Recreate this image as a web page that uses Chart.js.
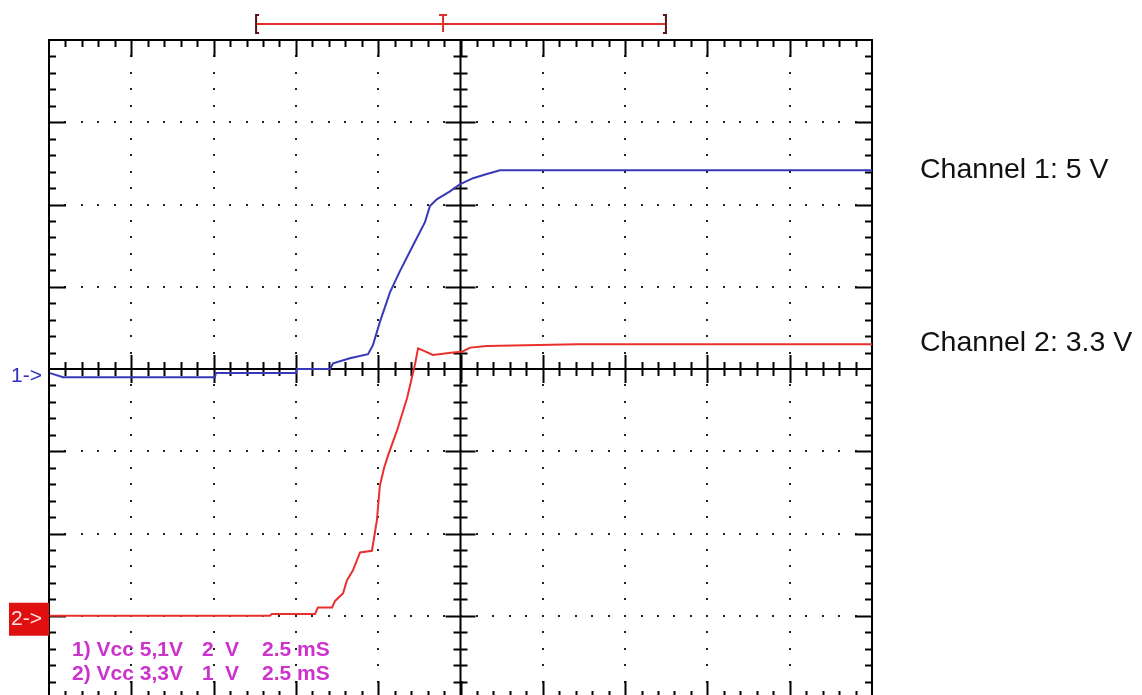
<!DOCTYPE html>
<html>
<head>
<meta charset="utf-8">
<script src="https://cdn.jsdelivr.net/npm/chart.js@4/dist/chart.umd.min.js"></script>
<style>
  html, body { margin: 0; padding: 0; background: #fff; overflow: hidden; }
  #wrap { position: absolute; left: 0; top: 0; width: 1142px; height: 703px; }
</style>
</head>
<body>
<div id="wrap"><canvas id="scope"></canvas></div>
<script>
// Scope capture: 2.5 ms/div, 10 divisions across, 8 down
const timeDivs = 10;
const msPerDiv = 2.5;

// Channel 1 (2 V/div) — time in ms from left edge, volts
const ch1Time  = [0.03, 0.43, 5.04, 5.07, 7.50, 7.53, 8.54, 8.63, 9.14, 9.69, 9.84, 10.05, 10.36, 10.66, 11.06, 11.42, 11.57, 11.79, 12.18, 12.48, 12.88, 13.30, 13.70, 25.0];
const ch1Volts = [0.05, -0.05, -0.05, 0.05, 0.05, 0.15, 0.15, 0.29, 0.41, 0.51, 0.73, 1.29, 2.02, 2.53, 3.16, 3.72, 4.11, 4.28, 4.47, 4.64, 4.79, 4.89, 4.98, 4.98];

// Channel 2 (1 V/div)
const ch2Time  = [0.03, 6.71, 6.77, 8.08, 8.17, 8.60, 8.69, 8.93, 9.05, 9.23, 9.45, 9.81, 9.96, 10.05, 10.18, 10.30, 10.57, 10.88, 11.12, 11.21, 11.39, 11.66, 12.27, 12.55, 12.79, 13.30, 16.04, 25.0];
const ch2Volts = [0.00, 0.00, 0.02, 0.02, 0.10, 0.10, 0.18, 0.27, 0.43, 0.55, 0.77, 0.79, 1.16, 1.58, 1.80, 1.95, 2.25, 2.65, 3.06, 3.25, 3.22, 3.17, 3.20, 3.21, 3.26, 3.28, 3.30, 3.30];

// Vertical ranges so that each channel's ground marker lands where the scope put it
const ch1Range = [-7.85, 8.15];
const ch2Range = [-1.0, 7.0];

// Acquisition window bracket and trigger (ms)
const windowStart = 6.29;
const windowEnd   = 18.74;
const triggerAt   = 11.97;

const channelLabels = ['Channel 1: 5 V', 'Channel 2: 3.3 V'];
const channelLevels = [5.0, 3.3];
const legendRows = [
  ['1) Vcc 5,1V', '2', 'V', '2.5', 'mS'],
  ['2) Vcc 3,3V', '1', 'V', '2.5', 'mS']
];

function toPoints(xs, ys) {
  return xs.map(function (x, i) { return { x: x, y: ys[i] }; });
}

// graticule: border, dotted grid, centre axes, ticks
const graticule = {
  id: 'graticule',
  beforeDatasetsDraw: function (chart) {
    const ctx = chart.ctx;
    const a = chart.chartArea;
    const xs = chart.scales.x;
    const gs = chart.scales.grid;
    const cx = xs.getPixelForValue(timeDivs * msPerDiv / 2);
    const cy = gs.getPixelForValue(0);
    ctx.save();
    ctx.fillStyle = '#222';

    // dotted division lines
    for (let i = 1; i < timeDivs; i++) {
      if (i === timeDivs / 2) continue;
      const px = Math.round(xs.getPixelForValue(i * msPerDiv));
      for (let m = -19; m <= 19; m++) {
        const py = Math.round(gs.getPixelForValue(m / 5));
        ctx.fillRect(px - 1, py - 1, 2, 2);
      }
    }
    for (let j = -3; j <= 3; j++) {
      if (j === 0) continue;
      const py = Math.round(gs.getPixelForValue(j));
      for (let m = 1; m < timeDivs * 5; m++) {
        const px = Math.round(xs.getPixelForValue(m * msPerDiv / 5));
        ctx.fillRect(px - 1, py - 1, 2, 2);
      }
    }

    ctx.strokeStyle = '#000';
    ctx.lineWidth = 2;
    ctx.beginPath();
    // centre axes
    ctx.moveTo(a.left, cy); ctx.lineTo(a.right, cy);
    ctx.moveTo(cx, a.top); ctx.lineTo(cx, a.bottom);

    // ticks along horizontal lines (top, bottom, centre)
    for (let m = 1; m < timeDivs * 5; m++) {
      const px = Math.round(xs.getPixelForValue(m * msPerDiv / 5)) + 0.5;
      const major = m % 5 === 0;
      const lenEdge = major ? 17 : 7;
      const lenMid = major ? 14 : 7;
      ctx.moveTo(px, a.top); ctx.lineTo(px, a.top + lenEdge);
      ctx.moveTo(px, a.bottom); ctx.lineTo(px, a.bottom - lenEdge);
      ctx.moveTo(px, cy - lenMid); ctx.lineTo(px, cy + lenMid);
    }
    // ticks along vertical lines (left, right, centre)
    for (let m = -19; m <= 19; m++) {
      if (m === 0) continue;
      const py = Math.round(gs.getPixelForValue(m / 5)) + 0.5;
      const major = m % 5 === 0;
      const lenEdge = major ? 17 : 7;
      const lenMid = major ? 15 : 7;
      ctx.moveTo(a.left, py); ctx.lineTo(a.left + lenEdge, py);
      ctx.moveTo(a.right, py); ctx.lineTo(a.right - lenEdge, py);
      ctx.moveTo(cx - lenMid, py); ctx.lineTo(cx + lenMid, py);
    }
    ctx.stroke();
    ctx.strokeRect(a.left, a.top, a.right - a.left, a.bottom - a.top);
    ctx.restore();
  },

  afterDraw: function (chart) {
    const ctx = chart.ctx;
    const a = chart.chartArea;
    const xs = chart.scales.x;
    const y1 = chart.scales.y1;
    const y2 = chart.scales.y2;
    ctx.save();

    // acquisition window bracket
    const bx0 = xs.getPixelForValue(windowStart);
    const bx1 = xs.getPixelForValue(windowEnd);
    const tx = xs.getPixelForValue(triggerAt);
    const by = a.top - 16;
    ctx.lineWidth = 2;
    ctx.strokeStyle = '#e03030';
    ctx.beginPath();
    ctx.moveTo(bx0, by); ctx.lineTo(bx1, by);
    ctx.moveTo(tx - 4, by - 9); ctx.lineTo(tx + 4, by - 9);
    ctx.moveTo(tx, by - 9); ctx.lineTo(tx, by + 8);
    ctx.stroke();
    ctx.strokeStyle = '#601010';
    ctx.beginPath();
    ctx.moveTo(bx0 + 3, by - 9); ctx.lineTo(bx0, by - 9); ctx.lineTo(bx0, by + 9); ctx.lineTo(bx0 + 3, by + 9);
    ctx.moveTo(bx1 - 3, by - 9); ctx.lineTo(bx1, by - 9); ctx.lineTo(bx1, by + 9); ctx.lineTo(bx1 - 3, by + 9);
    ctx.stroke();

    // ground markers
    ctx.textBaseline = 'middle';
    ctx.font = '21px "Liberation Sans", Arial, sans-serif';
    ctx.fillStyle = '#3030c0';
    ctx.fillText('1->', 11, y1.getPixelForValue(0) + 1);
    const g2 = y2.getPixelForValue(0);
    ctx.fillStyle = '#e01010';
    ctx.fillRect(9, g2 - 13, a.left - 9, 33);
    ctx.fillStyle = '#ffe6e6';
    ctx.fillText('2->', 11, g2 + 3);

    // scope settings readout
    ctx.fillStyle = '#cc33cc';
    ctx.font = 'bold 21px "Liberation Sans", Arial, sans-serif';
    const cols = [72, 202, 225, 262, 297];
    legendRows.forEach(function (row, r) {
      row.forEach(function (txt, c) {
        ctx.fillText(txt, cols[c], 650 + r * 24);
      });
    });

    // right-hand level labels
    ctx.fillStyle = '#111';
    ctx.font = '28.5px "Liberation Sans", Arial, sans-serif';
    ctx.textBaseline = 'alphabetic';
    ctx.fillText(channelLabels[0], 920, y1.getPixelForValue(channelLevels[0]) + 8);
    ctx.fillText(channelLabels[1], 920, y2.getPixelForValue(channelLevels[1]) + 7);
    ctx.restore();
  }
};

new Chart(document.getElementById('scope'), {
  type: 'line',
  data: {
    datasets: [
      {
        label: 'Channel 1',
        data: toPoints(ch1Time, ch1Volts),
        yAxisID: 'y1',
        borderColor: '#3838b8',
        borderWidth: 2,
        pointRadius: 0,
        tension: 0
      },
      {
        label: 'Channel 2',
        data: toPoints(ch2Time, ch2Volts),
        yAxisID: 'y2',
        borderColor: '#e8302c',
        borderWidth: 2,
        pointRadius: 0,
        tension: 0
      }
    ]
  },
  options: {
    responsive: true,
    maintainAspectRatio: false,
    animation: false,
    layout: { padding: { left: 49, top: 40, right: 270, bottom: 5 } },
    plugins: { legend: { display: false }, tooltip: { enabled: false } },
    scales: {
      x: { type: 'linear', min: 0, max: timeDivs * msPerDiv, display: false },
      y1: { type: 'linear', axis: 'y', min: ch1Range[0], max: ch1Range[1], display: false },
      y2: { type: 'linear', axis: 'y', min: ch2Range[0], max: ch2Range[1], display: false },
      grid: { type: 'linear', axis: 'y', min: -4, max: 4, display: false }
    }
  },
  plugins: [graticule]
});
</script>
</body>
</html>
